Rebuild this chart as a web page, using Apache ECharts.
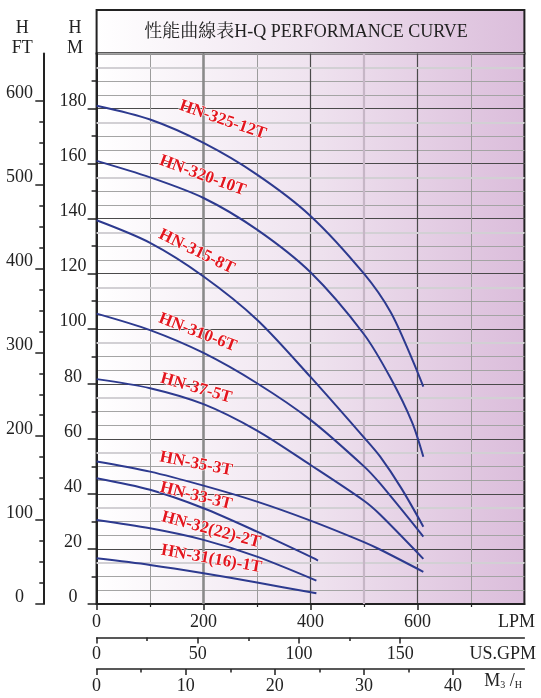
<!DOCTYPE html>
<html><head><meta charset="utf-8">
<script src="https://cdn.jsdelivr.net/npm/echarts@6/dist/echarts.min.js"></script>
<style>html,body{margin:0;padding:0;background:#fff}#c{width:541px;height:698px}</style>
</head><body><div id="c"></div>
<script>
// ---- data (LPM flow vs head in metres) ----
const models = ['HN-325-12T','HN-320-10T','HN-315-8T','HN-310-6T','HN-37-5T','HN-35-3T','HN-33-3T','HN-32(22)-2T','HN-31(16)-1T'];
const q325 = [0,100,200,300,400,500,550,590,611];
const h325 = [181,176,167.5,156,141,120,106,89,79];
const q320 = [0,100,200,300,400,500,550,590,611];
const h320 = [161,155,147.5,136,120.5,98,82,66,53.5];
const q315 = [0,100,200,300,400,500,530,570,611];
const h315 = [139.4,131.2,119,103.3,82.5,60.5,53.6,42,28.1];
const q310 = [0,100,200,300,400,500,530,611];
const h310 = [105.5,99.5,91.2,80.2,66.9,50,43.8,24.5];
const q37 = [0,100,200,300,400,500,530,611];
const h37 = [81.7,78.4,72.6,63,50.5,37.5,32.5,16.4];
const q35 = [0,100,200,300,400,500,530,611];
const h35 = [51.8,48.1,43,37.2,30.3,22.5,19.8,11.7];
const q33 = [0,100,200,300,400,414];
const h33 = [45.7,41.5,34.8,26.3,17.2,15.8];
const q32 = [0,100,200,300,411];
const h32 = [30.5,27.5,23.3,17.2,8.5];
const q31 = [0,100,200,300,411];
const h31 = [16.6,14.2,11.2,7.8,3.9];

// ---- tick labels ----
const lpmLabels = [0,200,400,600];
const gpmLabels = [0,50,100,150];
const gpmMinor = [25,75,125];
const m3Labels = [0,10,20,30,40];
const m3Minor = [5,15,25,35];
const mLabels = [0,20,40,60,80,100,120,140,160,180];
const ftLabels = [0,100,200,300,400,500,600];
const ftMinor = [25,50,75,125,150,175,225,250,275,325,350,375,425,450,475,525,550,575];
const lightRows = [15,35,55,75,95,115,135,155,175,195];

const LPM_MAX = 800, M_MAX = 200;
const GPM_F = 3.78541, M3_F = 1000/60, FT_F = 0.3048;

// ---- layout / style (kept apart from data) ----
const FONT = "'Liberation Serif','Noto Serif CJK TC','Noto Sans CJK TC',serif";
const G = {left:96.6, right:524.4, top:53.5, bottom:604};
const INK = '#222';
const CURVE = '#2d3a8f';
const RED = '#e3161f';
const labelPos = [[236,175.8,-19],[198,155.6,-20],[187,128,-26],[189,98.6,-21],[186,78.4,-16],[186,50.9,-11],[186,39.2,-14],[214,26.9,-15],[215,16.3,-10]];

const curves = [[q325,h325],[q320,h320],[q315,h315],[q310,h310],[q37,h37],[q35,h35],[q33,h33],[q32,h32],[q31,h31]];

const chart = echarts.init(document.getElementById('c'), null, {renderer:'canvas'});
const grad = () => new echarts.graphic.LinearGradient(0,0,1,0,[{offset:0,color:'#ffffff'},{offset:0.5,color:'#efe3ef'},{offset:1,color:'#dbbddb'}]);
const txt = {fontFamily:FONT, fontSize:18, color:INK};

function subAxis(max, offset, ticks, len, labels, margin, line) {
  return {type:'value', min:0, max:max, position:'bottom', offset:offset,
    axisLine:{show:line, onZero:false, lineStyle:{color:INK,width:1.5}},
    axisTick:{show:true, customValues:ticks, length:len, lineStyle:{color:INK,width:1.5}},
    axisLabel: labels ? Object.assign({customValues:labels, margin:margin}, txt) : {show:false},
    splitLine:{show:false}};
}

const option = {
  animation:false,
  backgroundColor:'#fff',
  grid:{left:G.left, top:G.top, width:G.right-G.left, height:G.bottom-G.top, show:true,
        backgroundColor:grad(), borderColor:INK, borderWidth:2},
  xAxis:[
    {type:'value', min:0, max:LPM_MAX, interval:200, position:'bottom',
     axisLine:{show:true, onZero:false, lineStyle:{color:INK,width:2}},
     axisTick:{show:true, customValues:lpmLabels, length:6, lineStyle:{color:INK,width:1.5}},
     minorTick:{show:true, splitNumber:2, length:3, lineStyle:{color:INK,width:1.2}},
     axisLabel:Object.assign({customValues:lpmLabels, margin:9}, txt),
     splitLine:{show:true, lineStyle:{color:'#4a4a4a', width:1.2}},
     minorSplitLine:{show:true, lineStyle:{color:'#9c9c9c', width:1}}},
    subAxis(LPM_MAX/GPM_F, 33.5, gpmLabels, 6, gpmLabels, 8, true),
    subAxis(LPM_MAX/GPM_F, 33.5, gpmMinor, 3.5, null, 0, false),
    subAxis(LPM_MAX/M3_F, 65, m3Labels, 6, m3Labels, 8.5, true),
    subAxis(LPM_MAX/M3_F, 65, m3Minor, 3.5, null, 0, false)
  ],
  yAxis:[
    {type:'value', min:0, max:M_MAX, interval:5, position:'left',
     axisLine:{show:false}, axisTick:{show:false}, axisLabel:{show:false},
     splitLine:{show:true, lineStyle:{color:'#a4a4a4', width:1}}},
    {type:'value', min:0, max:M_MAX, interval:20, position:'left',
     axisLine:{show:true, onZero:false, lineStyle:{color:INK,width:2}},
     axisTick:{show:true, customValues:mLabels, length:9, lineStyle:{color:INK,width:1.5}},
     minorTick:{show:true, splitNumber:2, length:5, lineStyle:{color:INK,width:1.5}},
     axisLabel:Object.assign({customValues:mLabels, align:'center', margin:23.6, verticalAlign:'bottom', lineHeight:14}, txt),
     splitLine:{show:true, lineStyle:{color:'#4a4a4a', width:1.2}}},
    {type:'value', min:0, max:M_MAX/FT_F, position:'left', offset:53.3,
     axisLine:{show:true, onZero:false, lineStyle:{color:INK,width:2}},
     axisTick:{show:true, customValues:ftLabels, length:8, lineStyle:{color:INK,width:1.5}},
     axisLabel:Object.assign({customValues:ftLabels, align:'center', margin:23.8, verticalAlign:'bottom', lineHeight:14}, txt),
     splitLine:{show:false}},
    {type:'value', min:0, max:M_MAX/FT_F, position:'left', offset:53.3,
     axisLine:{show:false, onZero:false},
     axisTick:{show:true, customValues:ftMinor, length:4, lineStyle:{color:INK,width:1.5}},
     axisLabel:{show:false}, splitLine:{show:false}}
  ],
  series:[
    {type:'line', xAxisIndex:0, yAxisIndex:1, data:[], z:1, silent:true,
     markLine:{silent:true, symbol:'none', animation:false, label:{show:false},
       data: lightRows.map(v=>({yAxis:v, lineStyle:{color:'#d2d0d4', width:2, type:'solid'}}))
         .concat([{xAxis:200, lineStyle:{color:'#8a8a8a', width:2.5, type:'solid'}},
                  {xAxis:500, lineStyle:{color:'#c6b6c6', width:2.2, type:'solid'}}])}}
  ].concat(curves.map((c,i)=>({
    type:'line', name:models[i], xAxisIndex:0, yAxisIndex:1,
    data:c[0].map((x,j)=>[x,c[1][j]]),
    smooth:0.3, showSymbol:false, symbol:'none', silent:true, z:5,
    lineStyle:{color:CURVE, width:2}
  }))),
  graphic:[
    {type:'rect', id:'tbox', z:-1, shape:{x:G.left, y:10, width:G.right-G.left, height:G.top-10},
     style:{fill:grad(), stroke:INK, lineWidth:2}},
    {type:'text', id:'title', x:306, y:32, style:{text:'性能曲線表H-Q PERFORMANCE CURVE', font:`18px ${FONT}`, fill:INK, align:'center', verticalAlign:'middle'}},
    {type:'text', x:22.3, y:28.3, style:{text:'H', font:`18px ${FONT}`, fill:INK, align:'center', verticalAlign:'middle'}},
    {type:'text', x:22.3, y:48.3, style:{text:'FT', font:`18px ${FONT}`, fill:INK, align:'center', verticalAlign:'middle'}},
    {type:'text', x:75, y:28.3, style:{text:'H', font:`18px ${FONT}`, fill:INK, align:'center', verticalAlign:'middle'}},
    {type:'text', x:75, y:48.3, style:{text:'M', font:`18px ${FONT}`, fill:INK, align:'center', verticalAlign:'middle'}},
    {type:'text', x:535, y:622.5, style:{text:'LPM', font:`18px ${FONT}`, fill:INK, align:'right', verticalAlign:'middle'}},
    {type:'text', x:536, y:654, style:{text:'US.GPM', font:`18px ${FONT}`, fill:INK, align:'right', verticalAlign:'middle'}},
    {type:'text', x:522, y:690, style:{
      text:'{a|M}{b|3}{a| /}{b|H}', align:'right', verticalAlign:'bottom',
      rich:{a:{fontFamily:FONT, fontSize:18, fill:INK, verticalAlign:'bottom'}, b:{fontFamily:FONT, fontSize:10, fill:INK, verticalAlign:'bottom'}}}}
  ]
};
chart.setOption(option);

const extra = labelPos.map((p,i)=>{
  const px = chart.convertToPixel({xAxisIndex:0, yAxisIndex:1}, [p[0], p[1]]);
  return {type:'text', id:'lab'+i, x:px[0], y:px[1], rotation:p[2]*Math.PI/180, z:20,
    style:{text:models[i], font:`bold 17px ${FONT}`, fill:RED, align:'center', verticalAlign:'middle',
           stroke:'rgba(255,255,255,0.85)', lineWidth:1.2}};
});
chart.setOption({graphic:extra});
</script>
</body></html>
